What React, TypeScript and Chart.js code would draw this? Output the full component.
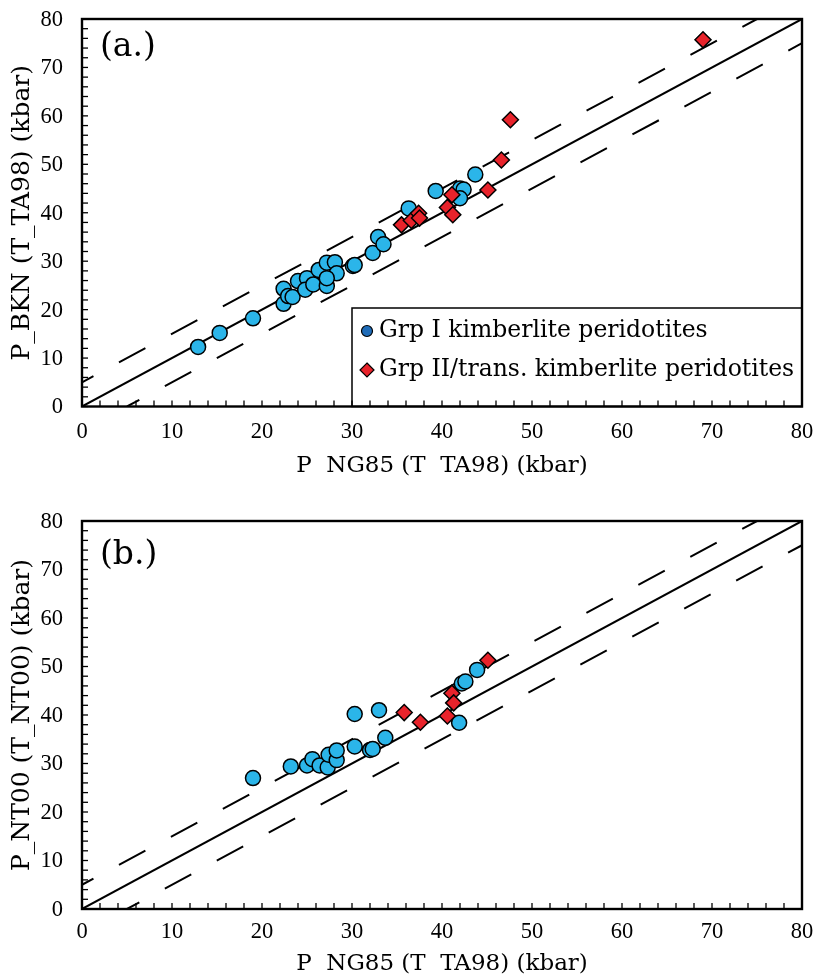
import React, { useEffect, useRef } from 'react';
import { Chart, registerables } from 'chart.js';

Chart.register(...registerables);

// ---------------- data ----------------
const AXIS_MIN = 0;
const AXIS_MAX = 80;
const MAJOR_STEP = 10;
const MINOR_STEP = 2;
const BAND = 5; // dashed ±5 kbar envelope

// Panel (a): P_BKN (T_TA98) vs P_NG85 (T_TA98)
const aGrp1X = [12.9, 15.3, 19.0, 22.4, 22.4, 22.9, 23.4, 24.0, 25.0, 24.8, 25.7, 26.3, 27.2, 28.1, 28.3, 27.2, 27.2, 30.1, 30.3, 32.3, 32.9, 33.5, 36.3, 39.3, 42.0, 42.4, 42.0, 43.7];
const aGrp1Y = [12.3, 15.2, 18.2, 21.2, 24.3, 22.8, 22.6, 25.9, 26.5, 24.1, 25.2, 28.2, 29.7, 29.8, 27.5, 24.9, 26.5, 29.0, 29.2, 31.7, 35.0, 33.5, 40.9, 44.5, 45.0, 44.8, 43.0, 47.9];
const aGrp2X = [35.5, 36.6, 37.4, 37.5, 40.6, 41.2, 41.1, 45.1, 46.6, 47.6, 69.0];
const aGrp2Y = [37.5, 38.4, 39.9, 38.9, 41.1, 39.6, 43.7, 44.7, 50.9, 59.2, 75.7];

// Panel (b): P_NT00 (T_NT00) vs P_NG85 (T_TA98)
const bGrp1X = [19.0, 23.2, 25.0, 25.6, 26.4, 27.3, 27.4, 28.3, 28.3, 30.3, 30.3, 32.0, 32.3, 33.7, 33.0, 41.9, 42.2, 42.6, 43.9];
const bGrp1Y = [27.0, 29.4, 29.6, 30.9, 29.6, 29.2, 31.8, 30.7, 32.7, 40.2, 33.5, 32.8, 33.0, 35.3, 41.0, 38.4, 46.5, 46.9, 49.3];
const bGrp2X = [35.8, 37.6, 40.6, 41.1, 41.3, 45.1];
const bGrp2Y = [40.5, 38.5, 39.8, 44.5, 42.5, 51.3];

const LEGEND_LABELS = ['Grp I kimberlite peridotites', 'Grp II/trans. kimberlite peridotites'];

// ---------------- style ----------------
const TICK_FONT = '"Liberation Serif", "Times New Roman", serif';
const TEXT_FONT = '"DejaVu Serif", serif';
const BLUE = '#2bb5e9';
const RED = '#e8232b';
const LEGEND_BLUE = '#1f6cb8';

type PanelSpec = {
  g1x: number[];
  g1y: number[];
  g2x: number[];
  g2y: number[];
  yTitle: string;
  xTitle: string;
  label: string;
  legend: boolean;
  height: number;
  top: number;
  bottom: number;
  xTickY: number;
  xTitleY: number;
  labelY: number;
};

const decorPlugin = {
  id: 'decor',
  afterDatasetsDraw(chart: any, _args: any, opts: any) {
    const { ctx, chartArea: a, scales } = chart;
    const xs = scales.x;
    const ys = scales.y;
    ctx.save();

    // legend box
    if (opts.legend) {
      const left = xs.getPixelForValue(30);
      const top = 308;
      ctx.fillStyle = '#fff';
      ctx.fillRect(left, top, a.right - left, a.bottom - top);
      ctx.strokeStyle = '#000';
      ctx.lineWidth = 1.5;
      ctx.strokeRect(left, top, a.right - left, a.bottom - top);
      const rows = [331, 370];
      const mx = left + 15;
      ctx.beginPath();
      ctx.arc(mx, rows[0], 5.5, 0, Math.PI * 2);
      ctx.fillStyle = LEGEND_BLUE;
      ctx.fill();
      ctx.lineWidth = 1.2;
      ctx.strokeStyle = '#000';
      ctx.stroke();
      ctx.beginPath();
      ctx.moveTo(mx, rows[1] - 7);
      ctx.lineTo(mx + 7, rows[1]);
      ctx.lineTo(mx, rows[1] + 7);
      ctx.lineTo(mx - 7, rows[1]);
      ctx.closePath();
      ctx.fillStyle = RED;
      ctx.fill();
      ctx.stroke();
      ctx.fillStyle = '#000';
      ctx.font = `23.5px ${TEXT_FONT}`;
      ctx.textAlign = 'left';
      ctx.textBaseline = 'middle';
      LEGEND_LABELS.forEach((t, i) => ctx.fillText(t, mx + 12, rows[i]));
    }

    // inward ticks
    ctx.strokeStyle = '#000';
    ctx.lineWidth = 1.3;
    for (let v = AXIS_MIN; v <= AXIS_MAX; v += MINOR_STEP) {
      const px = xs.getPixelForValue(v);
      ctx.beginPath();
      ctx.moveTo(px, a.bottom);
      ctx.lineTo(px, a.bottom - 6);
      ctx.stroke();
      const py = ys.getPixelForValue(v);
      ctx.beginPath();
      ctx.moveTo(a.left, py);
      ctx.lineTo(a.left + 6, py);
      ctx.stroke();
    }

    // frame
    ctx.lineWidth = 2.4;
    ctx.strokeRect(a.left, a.top, a.right - a.left, a.bottom - a.top);

    // tick labels (from the scales' own ticks)
    ctx.fillStyle = '#000';
    ctx.font = `22.5px ${TICK_FONT}`;
    ctx.textBaseline = 'middle';
    ctx.textAlign = 'center';
    xs.ticks.forEach((t: any) => {
      ctx.fillText(String(t.value), xs.getPixelForValue(t.value), opts.xTickY);
    });
    ctx.textAlign = 'right';
    ys.ticks.forEach((t: any) => {
      ctx.fillText(String(t.value), a.left - 19, ys.getPixelForValue(t.value) + 1);
    });

    // panel label
    ctx.font = `33px ${TEXT_FONT}`;
    ctx.textAlign = 'left';
    ctx.fillText(opts.label, a.left + 18, opts.labelY);

    // x title
    ctx.font = `23px ${TEXT_FONT}`;
    ctx.textAlign = 'center';
    ctx.fillText(opts.xTitle, (a.left + a.right) / 2, opts.xTitleY);

    // y title
    ctx.save();
    ctx.translate(22, (a.top + a.bottom) / 2);
    ctx.rotate(-Math.PI / 2);
    ctx.font = `25px ${TEXT_FONT}`;
    ctx.textAlign = 'center';
    ctx.textBaseline = 'middle';
    ctx.fillText(opts.yTitle, 0, 0);
    ctx.restore();

    ctx.restore();
  },
};

function toPoints(xs: number[], ys: number[]) {
  return xs.map((x, i) => ({ x, y: ys[i] }));
}

function buildChart(canvas: HTMLCanvasElement, spec: PanelSpec) {
  const refLine = (dy: number) => {
    const x0 = Math.max(AXIS_MIN, AXIS_MIN - dy);
    const x1 = Math.min(AXIS_MAX, AXIS_MAX - dy);
    return [
      { x: x0, y: x0 + dy },
      { x: x1, y: x1 + dy },
    ];
  };
  const lineBase = {
    type: 'line' as const,
    showLine: true,
    pointRadius: 0,
    borderColor: '#000',
    borderWidth: 2,
    fill: false,
    order: 10,
  };
  return new Chart(canvas, {
    type: 'scatter',
    data: {
      datasets: [
        {
          label: LEGEND_LABELS[0],
          data: toPoints(spec.g1x, spec.g1y),
          pointStyle: 'circle',
          pointRadius: 7.5,
          backgroundColor: BLUE,
          borderColor: '#000',
          borderWidth: 1.5,
          order: 2,
        },
        {
          label: LEGEND_LABELS[1],
          data: toPoints(spec.g2x, spec.g2y),
          pointStyle: 'rectRot',
          pointRadius: 8,
          backgroundColor: RED,
          borderColor: '#000',
          borderWidth: 1.5,
          order: 1,
        },
        { ...lineBase, label: '1:1', data: refLine(0) },
        { ...lineBase, label: '+5', data: refLine(BAND), borderDash: [30, 29], borderDashOffset: 17 },
        { ...lineBase, label: '-5', data: refLine(-BAND), borderDash: [30, 29], borderDashOffset: 16 },
      ] as any,
    },
    options: {
      animation: false,
      responsive: false,
      maintainAspectRatio: false,
      devicePixelRatio: 1,
      layout: { padding: { top: spec.top, right: 18, left: 0, bottom: 0 } },
      plugins: {
        legend: { display: false },
        tooltip: { enabled: false },
        decor: {
          legend: spec.legend,
          label: spec.label,
          labelY: spec.labelY,
          xTitle: spec.xTitle,
          xTitleY: spec.xTitleY,
          xTickY: spec.xTickY,
          yTitle: spec.yTitle,
        },
      } as any,
      scales: {
        x: {
          type: 'linear',
          min: AXIS_MIN,
          max: AXIS_MAX,
          border: { display: false },
          grid: { display: false, drawTicks: false },
          ticks: { display: false, stepSize: MAJOR_STEP, autoSkip: false },
          afterFit: (s: any) => {
            s.height = spec.height - spec.bottom;
          },
        },
        y: {
          type: 'linear',
          min: AXIS_MIN,
          max: AXIS_MAX,
          border: { display: false },
          grid: { display: false, drawTicks: false },
          ticks: { display: false, stepSize: MAJOR_STEP, autoSkip: false },
          afterFit: (s: any) => {
            s.width = 82;
          },
        },
      },
    } as any,
    plugins: [decorPlugin],
  });
}

const PANEL_A: PanelSpec = {
  g1x: aGrp1X,
  g1y: aGrp1Y,
  g2x: aGrp2X,
  g2y: aGrp2Y,
  yTitle: 'P_BKN (T_TA98) (kbar)',
  xTitle: 'P  NG85 (T  TA98) (kbar)',
  label: '(a.)',
  legend: true,
  height: 490,
  top: 19,
  bottom: 406.5,
  xTickY: 432,
  xTitleY: 466,
  labelY: 47,
};

const PANEL_B: PanelSpec = {
  g1x: bGrp1X,
  g1y: bGrp1Y,
  g2x: bGrp2X,
  g2y: bGrp2Y,
  yTitle: 'P_NT00 (T_NT00) (kbar)',
  xTitle: 'P  NG85 (T  TA98) (kbar)',
  label: '(b.)',
  legend: false,
  height: 489,
  top: 31,
  bottom: 419,
  xTickY: 442,
  xTitleY: 474,
  labelY: 65,
};

export default function App() {
  const refA = useRef<HTMLCanvasElement>(null);
  const refB = useRef<HTMLCanvasElement>(null);
  useEffect(() => {
    const ca = buildChart(refA.current!, PANEL_A);
    const cb = buildChart(refB.current!, PANEL_B);
    return () => {
      ca.destroy();
      cb.destroy();
    };
  }, []);
  return (
    <div style={{ position: 'absolute', left: 0, top: 0, width: 820, height: 979, background: '#fff' }}>
      <canvas
        ref={refA}
        width={820}
        height={490}
        style={{ position: 'absolute', left: 0, top: 0, width: 820, height: 490 }}
      />
      <canvas
        ref={refB}
        width={820}
        height={489}
        style={{ position: 'absolute', left: 0, top: 490, width: 820, height: 489 }}
      />
    </div>
  );
}
